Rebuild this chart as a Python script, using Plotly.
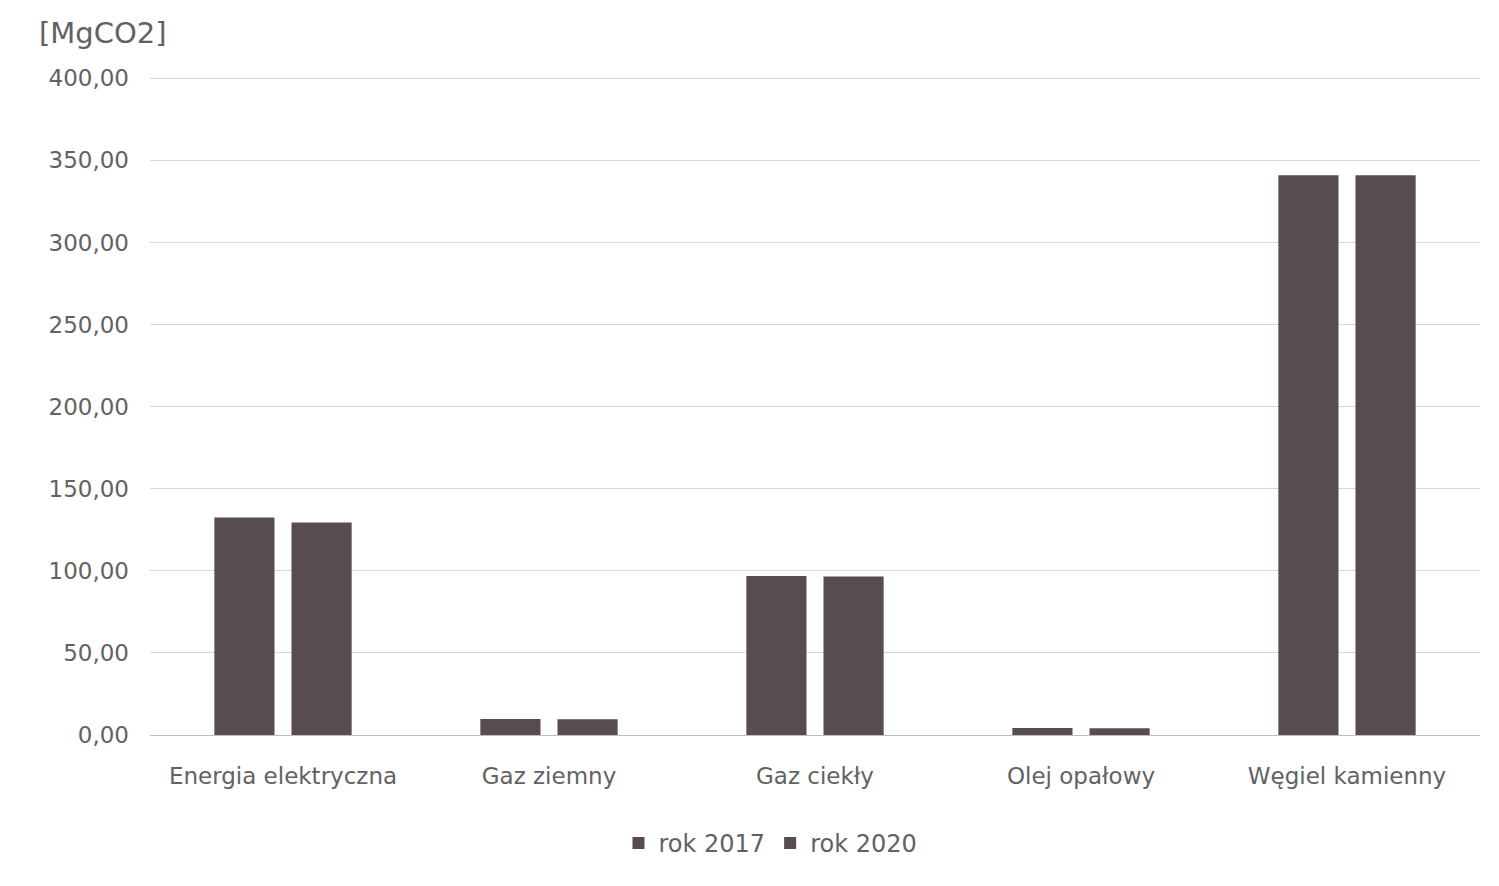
import plotly.graph_objects as go

# Emisja CO2 według nośnika energii
categories = ["Energia elektryczna", "Gaz ziemny", "Gaz ciekły", "Olej opałowy", "Węgiel kamienny"]
rok_2017 = [132.5, 9.8, 96.8, 4.3, 341.0]
rok_2020 = [129.5, 9.6, 96.5, 4.1, 341.0]
y_ticks = [0, 50, 100, 150, 200, 250, 300, 350, 400]

bar_color = "#564c52"
text_color = "#626262"
font_family = "DejaVu Sans, sans-serif"

fig = go.Figure()
fig.add_trace(go.Bar(name="rok 2017", x=categories, y=rok_2017,
                     marker=dict(color=bar_color, line=dict(width=0))))
fig.add_trace(go.Bar(name="rok 2020", x=categories, y=rok_2020,
                     marker=dict(color=bar_color, line=dict(width=0))))

fig.update_layout(
    width=1499, height=886,
    margin=dict(l=150, r=19, t=75, b=151),
    paper_bgcolor="white", plot_bgcolor="white",
    barmode="group", bargap=0.42, bargroupgap=0.22,
    separators=",.",
    font=dict(family=font_family, size=23, color=text_color),
    showlegend=True,
    legend=dict(orientation="h", xref="container", yref="container",
                x=0.514, y=0.048, xanchor="center", yanchor="middle",
                font=dict(size=24, color=text_color), itemwidth=30,
                traceorder="normal"),
    xaxis=dict(showgrid=False, showline=True, linecolor="#bdbdbd", linewidth=1,
               ticks="", ticklabelstandoff=20,
               tickfont=dict(size=23, color=text_color)),
    yaxis=dict(range=[0, 402], tickvals=y_ticks, tickformat=".2f",
               showgrid=True, gridcolor="#d6d6d6", gridwidth=1,
               zeroline=False, showline=False, ticks="",
               ticklabelstandoff=20,
               tickfont=dict(size=23, color=text_color)),
    annotations=[dict(text="[MgCO2]", xref="paper", yref="paper",
                      x=-0.085, y=1.064, xanchor="left", yanchor="middle",
                      showarrow=False, font=dict(size=29, color=text_color))],
)

fig.write_html("out.html")
